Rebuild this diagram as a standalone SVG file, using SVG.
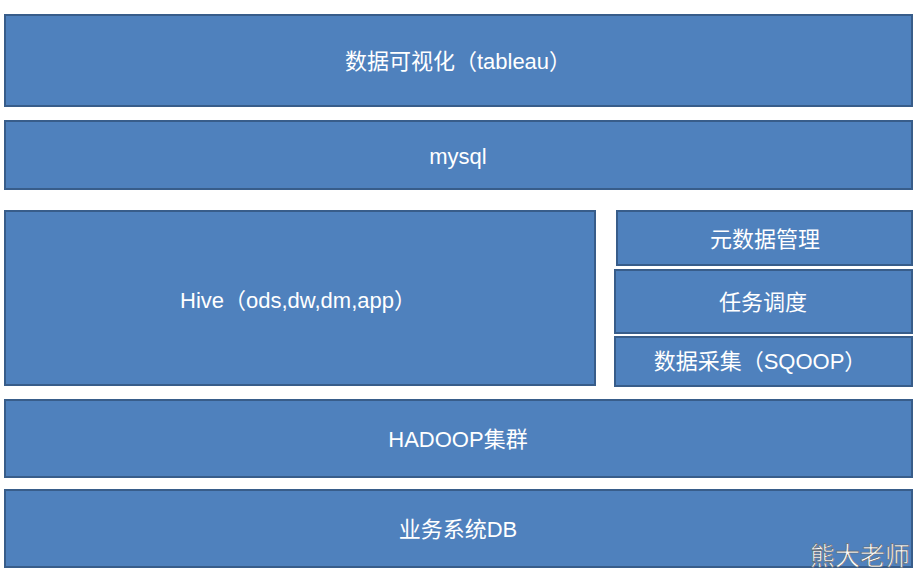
<svg xmlns="http://www.w3.org/2000/svg" width="923" height="580" viewBox="0 0 923 580">
<style>
rect{fill:#4F81BD;stroke:#385D8A;stroke-width:2}
text{fill:#fff;font-family:"Liberation Sans","Noto Sans CJK SC",sans-serif;font-size:22px;text-anchor:middle;dominant-baseline:central}
.wm{fill:#fff;stroke:#666;stroke-width:0.6;font-size:25px;text-anchor:start}
</style>
<rect width="923" height="580" style="fill:#fff;stroke:none"/>
<g id="viz"><rect x="5" y="15" width="907" height="91"/><text x="458" y="61">数据可视化（tableau）</text></g>
<g id="mysql"><rect x="5" y="121" width="907" height="68"/><text x="458" y="156">mysql</text></g>
<g id="hive"><rect x="5" y="211" width="590" height="174"/><text x="298" y="300">Hive（ods,dw,dm,app）</text></g>
<g id="meta"><rect x="617" y="211" width="295" height="54"/><text x="765" y="239">元数据管理</text></g>
<g id="sched"><rect x="615" y="270" width="297" height="63"/><text x="763" y="302">任务调度</text></g>
<g id="collect"><rect x="615" y="337" width="297" height="49"/><text x="760" y="361">数据采集（SQOOP）</text></g>
<g id="hadoop"><rect x="5" y="400" width="907" height="77"/><text x="458" y="439">HADOOP集群</text></g>
<g id="db"><rect x="5" y="490" width="907" height="77"/><text x="458" y="529">业务系统DB</text></g>
<g id="connectors"></g>
<text class="wm" x="810" y="556">熊大老师</text>
</svg>
